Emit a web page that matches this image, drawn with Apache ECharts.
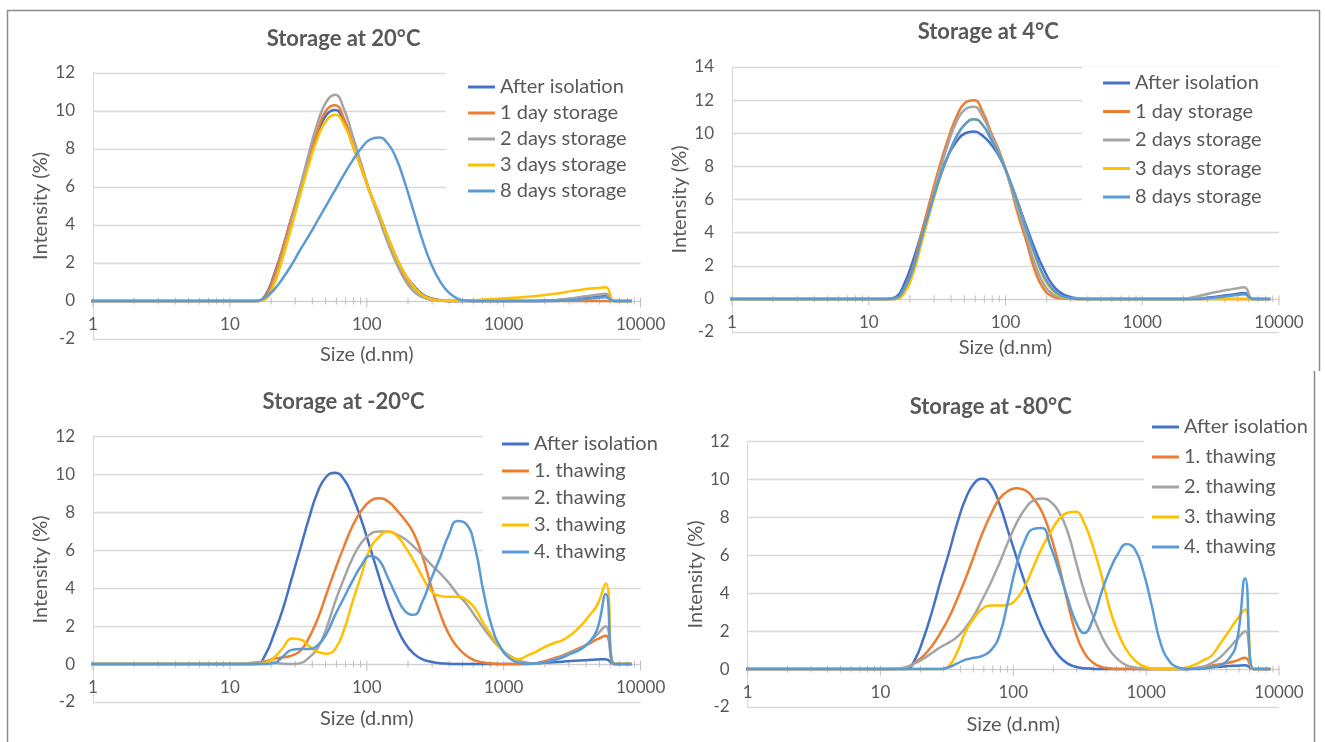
<!DOCTYPE html>
<html>
<head>
<meta charset="utf-8">
<title>DLS size distributions</title>
<script src="https://cdn.jsdelivr.net/npm/echarts@6/dist/echarts.min.js"></script>
<style>
  html, body { margin: 0; padding: 0; background: #fff; }
  #chart { width: 1325px; height: 742px; }
</style>
</head>
<body>
<div id="chart"></div>
<script>
// Size bins (d.nm) of the intensity distributions
const sizes = [0.9649, 1.117, 1.294, 1.499, 1.736, 2.010, 2.328, 2.696, 3.122, 3.615, 4.187, 4.849, 5.615, 6.503, 7.531, 8.721, 10.10, 11.70, 13.54,
  15.69, 18.17, 21.04, 24.36, 28.21, 32.67, 37.84, 43.82, 50.75, 58.77, 68.06, 78.82, 91.28, 105.7, 122.4, 141.8, 164.2, 190.1, 220.2, 255.0,
  295.3, 342.0, 396.1, 458.7, 531.2, 615.1, 712.4, 825.0, 955.4, 1106, 1281, 1484, 1718, 1990, 2305, 2669, 3091, 3580, 4145, 4801, 5560,
  6439, 7456, 8635];

// Storage at 20 °C (intensity %)
const t20After = [0,0,0,0,0,0,0,0,0,0,0,0,0,0,0,0,0,0,0,
  0, 0.3, 1.4, 2.8, 4.4, 5.9, 7.4, 8.8, 9.8, 10.05, 9.4, 8.2, 7.0, 5.7, 4.6, 3.4, 2.3, 1.4, 0.8, 0.35, 0.15, 0.05,
  0, 0, 0, 0, 0, 0, 0, 0, 0, 0, 0, 0.02, 0.04, 0.07, 0.1, 0.13, 0.17, 0.21, 0.25, 0, 0, 0];
const t20Day1 = [0,0,0,0,0,0,0,0,0,0,0,0,0,0,0,0,0,0,0,
  0, 0.25, 1.3, 2.8, 4.4, 6.0, 7.6, 9.0, 10.05, 10.3, 9.6, 8.3, 7.0, 5.7, 4.5, 3.3, 2.2, 1.3, 0.7, 0.3, 0.12, 0.04,
  0, 0, 0, 0, 0, 0, 0, 0, 0, 0, 0, 0, 0, 0, 0, 0, 0, 0, 0, 0, 0, 0];
const t20Day2 = [0,0,0,0,0,0,0,0,0,0,0,0,0,0,0,0,0,0,0,
  0, 0.15, 1.0, 2.5, 4.2, 6.0, 7.8, 9.4, 10.5, 10.85, 10.1, 8.7, 7.2, 5.7, 4.4, 3.1, 2.0, 1.1, 0.5, 0.2, 0.06, 0.02,
  0, 0, 0, 0, 0, 0, 0, 0, 0, 0, 0, 0, 0.03, 0.08, 0.14, 0.2, 0.27, 0.33, 0.38, 0, 0, 0];
const t20Day3 = [0,0,0,0,0,0,0,0,0,0,0,0,0,0,0,0,0,0,0,
  0, 0.1, 0.9, 2.3, 3.9, 5.6, 7.2, 8.6, 9.5, 9.8, 9.3, 8.2, 7.0, 5.7, 4.6, 3.4, 2.3, 1.4, 0.75, 0.3, 0.1, 0.03,
  0.01, 0.02, 0.03, 0.05, 0.08, 0.1, 0.13, 0.16, 0.19, 0.22, 0.26, 0.31, 0.37, 0.44, 0.52, 0.58, 0.64, 0.68, 0.72, 0, 0, 0];
const t20Day8 = [0,0,0,0,0,0,0,0,0,0,0,0,0,0,0,0,0,0,0,
  0, 0.2, 0.6, 1.2, 1.9, 2.7, 3.45, 4.25, 5.05, 5.85, 6.65, 7.4, 8.05, 8.5, 8.6, 8.3, 7.5, 6.2, 4.7, 3.2, 1.95, 1.05, 0.45, 0.13, 0.02,
  0, 0, 0, 0, 0, 0, 0, 0, 0, 0, 0.02, 0.05, 0.08, 0.12, 0.16, 0.2, 0, 0, 0];

// Storage at 4 °C
const t4After = [0,0,0,0,0,0,0,0,0,0,0,0,0,0,0,0,0,0,0,
  0.1, 0.9, 2.3, 4.0, 5.8, 7.4, 8.6, 9.5, 10.0, 10.1, 9.85, 9.3, 8.5, 7.3, 5.9, 4.4, 3.0, 1.8, 0.85, 0.35, 0.12, 0.03,
  0, 0, 0, 0, 0, 0, 0, 0, 0, 0, 0, 0, 0, 0.03, 0.08, 0.15, 0.22, 0.28, 0.35, 0, 0, 0];
const t4Day1 = [0,0,0,0,0,0,0,0,0,0,0,0,0,0,0,0,0,0,0,
  0, 0.6, 1.9, 4.0, 6.0, 7.9, 9.6, 11.0, 11.85, 12.0, 11.3, 10.0, 8.8, 7.2, 5.2, 3.5, 1.7, 0.6, 0.15, 0.03,
  0, 0, 0, 0, 0, 0, 0, 0, 0, 0, 0, 0, 0, 0, 0, 0, 0, 0, 0, 0, 0, 0, 0, 0];
const t4Day2 = [0,0,0,0,0,0,0,0,0,0,0,0,0,0,0,0,0,0,0,
  0, 0.4, 1.6, 3.6, 5.6, 7.6, 9.3, 10.7, 11.45, 11.6, 11.0, 9.9, 8.7, 7.2, 5.5, 3.8, 2.1, 0.9, 0.3, 0.08, 0.02,
  0, 0, 0, 0, 0, 0, 0, 0, 0, 0, 0, 0, 0, 0.08, 0.2, 0.32, 0.43, 0.53, 0.62, 0.7, 0, 0, 0];
const t4Day3 = [0,0,0,0,0,0,0,0,0,0,0,0,0,0,0,0,0,0,0,
  0, 0.35, 1.5, 3.4, 5.3, 7.1, 8.6, 9.8, 10.55, 10.85, 10.5, 9.6, 8.6, 7.3, 5.8, 4.2, 2.6, 1.3, 0.5, 0.15, 0.03,
  0, 0, 0, 0, 0, 0, 0, 0, 0, 0, 0, 0, 0, 0, 0, 0, 0, 0, 0, 0, 0, 0, 0];
const t4Day8 = [0,0,0,0,0,0,0,0,0,0,0,0,0,0,0,0,0,0,0,
  0.05, 0.6, 1.8, 3.7, 5.5, 7.2, 8.6, 9.8, 10.55, 10.85, 10.5, 9.6, 8.6, 7.3, 5.8, 4.2, 2.7, 1.4, 0.6, 0.2, 0.05,
  0, 0, 0, 0, 0, 0, 0, 0, 0, 0, 0, 0, 0, 0, 0, 0.05, 0.1, 0.16, 0.22, 0.28, 0, 0, 0];

// Storage at -20 °C
const m20After = [0,0,0,0,0,0,0,0,0,0,0,0,0,0,0,0,0,0,0,
  0, 0.5, 1.6, 2.9, 4.5, 6.1, 7.7, 9.1, 9.9, 10.1, 9.75, 8.85, 7.6, 6.15, 4.65, 3.2, 2.0, 1.1, 0.55, 0.25, 0.12, 0.05, 0.02,
  0, 0, 0, 0, 0, 0, 0, 0, 0.02, 0.04, 0.07, 0.1, 0.13, 0.16, 0.19, 0.22, 0.24, 0.26, 0, 0, 0];
const m20Thaw1 = [0,0,0,0,0,0,0,0,0,0,0,0,0,0,0,0,0,0,0,
  0.05, 0.15, 0.28, 0.35, 0.45, 0.7, 1.4, 2.4, 3.7, 5.0, 6.2, 7.3, 8.1, 8.6, 8.75, 8.6, 8.15, 7.6, 6.9, 5.7, 4.1,
  2.7, 1.6, 0.9, 0.45, 0.2, 0.08, 0.03, 0, 0, 0, 0, 0.05, 0.15, 0.3, 0.45, 0.65, 0.85, 1.05, 1.3, 1.5, 0, 0, 0];
const m20Thaw2 = [0,0,0,0,0,0,0,0,0,0,0,0,0,0,0,0,0,0,0.05,
  0.1, 0.12, 0.08, 0.02, 0, 0.05, 0.35, 0.85, 1.9, 3.3, 4.5, 5.6, 6.4, 6.85, 7.0, 7.0, 6.85, 6.6, 6.2, 5.75, 5.25,
  4.8, 4.3, 3.7, 3.2, 2.55, 1.9, 1.3, 0.8, 0.45, 0.2, 0.08, 0.03, 0.1, 0.25, 0.4, 0.6, 0.8, 1.1, 1.55, 2.0, 0, 0, 0];
const m20Thaw3 = [0,0,0,0,0,0,0,0,0,0,0,0,0,0,0,0,0,0,0,
  0, 0.05, 0.35, 0.85, 1.35, 1.3, 0.95, 0.65, 0.55, 0.8, 1.8, 3.3, 4.7, 6.1, 6.7, 7.0, 6.8, 6.2, 5.45, 4.6, 3.85,
  3.6, 3.55, 3.55, 3.4, 2.95, 2.15, 1.45, 0.8, 0.38, 0.26, 0.45, 0.65, 0.9, 1.1, 1.25, 1.55, 1.95, 2.5, 3.1, 4.25, 0, 0, 0];
const m20Thaw4 = [0,0,0,0,0,0,0,0,0,0,0,0,0,0,0,0,0,0,0,
  0, 0, 0.05, 0.4, 0.75, 0.8, 0.8, 1.0, 1.6, 2.6, 3.5, 4.4, 5.2, 5.7, 5.5, 4.6, 3.6, 2.8, 2.6, 3.3, 4.5,
  5.6, 6.8, 7.55, 7.4, 6.2, 3.8, 1.9, 0.85, 0.3, 0.08, 0.02, 0.03, 0.08, 0.2, 0.35, 0.55, 0.75, 1.1, 1.8, 3.7, 0, 0, 0];

// Storage at -80 °C
const m80After = [0,0,0,0,0,0,0,0,0,0,0,0,0,0,0,0,0,0,0,
  0, 0.5, 1.6, 3.0, 4.6, 6.1, 7.7, 9.0, 9.8, 10.05, 9.7, 8.7, 7.3, 5.9, 4.55, 3.3, 2.2, 1.35, 0.7, 0.3, 0.12, 0.05, 0.02,
  0, 0, 0, 0, 0, 0, 0, 0, 0, 0, 0, 0.03, 0.07, 0.1, 0.13, 0.16, 0.18, 0.2, 0, 0, 0];
const m80Thaw1 = [0,0,0,0,0,0,0,0,0,0,0,0,0,0,0,0,0,0,0.02,
  0.1, 0.35, 0.7, 1.2, 1.9, 2.7, 3.7, 4.8, 6.0, 7.2, 8.2, 9.0, 9.4, 9.55, 9.45, 9.0, 8.3, 7.1, 5.5, 3.6, 1.9,
  0.85, 0.35, 0.12, 0.04, 0, 0, 0, 0, 0, 0, 0, 0, 0, 0.05, 0.1, 0.18, 0.26, 0.33, 0.45, 0.6, 0, 0, 0];
const m80Thaw2 = [0,0,0,0,0,0,0,0,0,0,0,0,0,0,0,0,0,0,0.02,
  0.1, 0.3, 0.55, 0.85, 1.15, 1.4, 1.7, 2.2, 2.85, 3.7, 4.6, 5.6, 6.7, 7.7, 8.45, 8.9, 9.0, 8.85, 8.3, 7.3, 5.7,
  4.1, 2.85, 1.8, 1.0, 0.5, 0.2, 0.08, 0.03, 0, 0, 0, 0, 0, 0.05, 0.12, 0.3, 0.6, 1.05, 1.55, 2.0, 0, 0, 0];
const m80Thaw3 = [0,0,0,0,0,0,0,0,0,0,0,0,0,0,0,0,0,0,0,
  0, 0, 0, 0, 0, 0.15, 0.9, 2.0, 2.7, 3.2, 3.35, 3.35, 3.4, 3.7, 4.4, 5.4, 6.4, 7.2, 7.9, 8.25, 8.3,
  7.7, 6.5, 5.0, 3.2, 1.9, 1.0, 0.45, 0.15, 0.04, 0, 0, 0, 0.08, 0.22, 0.45, 0.7, 1.3, 1.95, 2.6, 3.15, 0, 0, 0];
const m80Thaw4 = [0,0,0,0,0,0,0,0,0,0,0,0,0,0,0,0,0,0,0,
  0, 0, 0, 0, 0, 0.1, 0.3, 0.5, 0.6, 0.7, 1.0, 1.8, 3.6, 5.5, 6.8, 7.4, 7.45, 6.5, 5.2, 3.8, 2.5,
  1.9, 2.6, 4.0, 5.2, 6.1, 6.6, 6.3, 5.1, 3.3, 1.4, 0.45, 0.1, 0.01, 0, 0.02, 0.08, 0.2, 0.5, 1.4, 4.8, 0, 0, 0];

// Legend entries and tick labels
const storageNames = ['After isolation', '1 day storage', '2 days storage', '3 days storage', '8 days storage'];
const thawNames = ['After isolation', '1. thawing', '2. thawing', '3. thawing', '4. thawing'];
const xTickLabels = ['1', '10', '100', '1000', '10000'];

const COLORS = ['#4472C4', '#ED7D31', '#A5A5A5', '#FFC000', '#5B9BD5'];
const TEXT = '#595959';
const FONT = 'Lato, "Open Sans", sans-serif';

// Panel layout (pixels)
const panels = [
  { title: 'Storage at 20°C', names: storageNames, values: [t20After, t20Day1, t20Day2, t20Day3, t20Day8], yMax: 12,
    grid: { left: 93, top: 73, width: 547.6, height: 266 }, titleX: 343.6, titleY: 40,
    legend: { bgLeft: 446, textX: 500, row1: 87, step: 26 }, xNameGap: 44, yNameGap: 42 },
  { title: 'Storage at 4°C', names: storageNames, values: [t4After, t4Day1, t4Day2, t4Day3, t4Day8], yMax: 14,
    grid: { left: 732, top: 67, width: 547, height: 265 }, titleX: 988.2, titleY: 33.3,
    legend: { bgLeft: 1082, textX: 1135, row1: 83, step: 28.5 }, xNameGap: 39, yNameGap: 42 },
  { title: 'Storage at -20°C', names: thawNames, values: [m20After, m20Thaw1, m20Thaw2, m20Thaw3, m20Thaw4], yMax: 12,
    grid: { left: 93, top: 436.7, width: 547.6, height: 265.3 }, titleX: 343.6, titleY: 402.7,
    legend: { bgLeft: 483, textX: 534, row1: 444, step: 27 }, xNameGap: 44.5, yNameGap: 42 },
  { title: 'Storage at -80°C', names: thawNames, values: [m80After, m80Thaw1, m80Thaw2, m80Thaw3, m80Thaw4], yMax: 12,
    grid: { left: 747.6, top: 441.7, width: 531.4, height: 265.3 }, titleX: 990.7, titleY: 407.7,
    legend: { bgLeft: 1144, textX: 1184, row1: 427, step: 30 }, xNameGap: 45, yNameGap: 42 }
];

// Tick positions along the log axis: 1..9 per decade, majors at powers of ten
const logTicks = [];
for (let d = 0; d < 4; d++) {
  for (let k = 1; k <= 9; k++) logTicks.push([k * Math.pow(10, d), k === 1 ? 1 : 0]);
}
logTicks.push([10000, 1]);

const chart = echarts.init(document.getElementById('chart'), null, { renderer: 'canvas', width: 1325, height: 742 });

const series = [];
panels.forEach((p, i) => {
  p.values.forEach((vals, s) => {
    series.push({
      type: 'line',
      name: p.names[s],
      xAxisIndex: i,
      yAxisIndex: i,
      data: sizes.map((x, k) => [x, vals[k]]),
      smooth: 0.5,
      symbol: 'none',
      clip: true,
      lineStyle: { width: 2.5, color: COLORS[s] },
      itemStyle: { color: COLORS[s] },
      emphasis: { disabled: true },
      z: 3
    });
  });
  // tick marks crossing the zero line
  series.push({
    type: 'custom',
    name: 'ticks' + i,
    xAxisIndex: i,
    yAxisIndex: i,
    silent: true,
    z: 2,
    data: logTicks,
    renderItem: function (params, api) {
      const pt = api.coord([api.value(0), 0]);
      const major = api.value(1) === 1;
      return {
        type: 'line',
        shape: { x1: pt[0], y1: pt[1] - 3.5, x2: pt[0], y2: pt[1] + (major ? 6.5 : 3.5) },
        style: { stroke: '#BFBFBF', lineWidth: 1 }
      };
    }
  });
});

const option = {
  backgroundColor: '#ffffff',
  animation: false,
  textStyle: { fontFamily: FONT },
  title: panels.map(p => ({
    text: p.title,
    left: p.titleX,
    top: p.titleY - 12,
    textAlign: 'center',
    padding: 0,
    textStyle: { fontSize: 22, fontWeight: 'bold', color: TEXT, fontFamily: FONT }
  })),
  legend: panels.map(p => ({
    orient: 'vertical',
    left: p.legend.bgLeft,
    top: p.legend.row1 - 10 - 6,
    padding: [6, 18, 8, p.legend.textX - 32 - p.legend.bgLeft],
    itemGap: p.legend.step - 20,
    itemWidth: 27,
    itemHeight: 3,
    icon: 'rect',
    selectedMode: false,
    backgroundColor: '#ffffff',
    data: p.names,
    textStyle: { fontSize: 20, color: TEXT, fontFamily: FONT }
  })),
  grid: panels.map(p => Object.assign({ containLabel: false, outerBoundsMode: 'none' }, p.grid)),
  xAxis: panels.map((p, i) => ({
    type: 'log',
    logBase: 10,
    gridIndex: i,
    min: 1,
    max: 10000,
    // the category axis crosses the value axis at zero
    offset: -p.grid.height * 2 / (p.yMax + 2),
    name: 'Size (d.nm)',
    nameLocation: 'middle',
    nameGap: p.xNameGap,
    nameTextStyle: { fontSize: 20, color: TEXT, fontFamily: FONT },
    axisLine: { show: true, onZero: false, lineStyle: { color: '#D0D0D0', width: 1 } },
    axisTick: { show: false },
    minorTick: { show: false },
    splitLine: { show: false },
    axisLabel: {
      margin: 15, fontSize: 17, color: TEXT, fontFamily: FONT,
      formatter: v => xTickLabels[Math.round(Math.log10(v))]
    }
  })),
  yAxis: panels.map((p, i) => ({
    type: 'value',
    gridIndex: i,
    min: -2,
    max: p.yMax,
    interval: 2,
    name: 'Intensity (%)',
    nameLocation: 'middle',
    nameRotate: 90,
    nameGap: p.yNameGap,
    nameTextStyle: { fontSize: 20, color: TEXT, fontFamily: FONT },
    axisLine: { show: true, lineStyle: { color: '#D9D9D9', width: 1 } },
    axisTick: { show: false },
    splitLine: { show: true, lineStyle: { color: '#D9D9D9', width: 1.3 } },
    axisLabel: { margin: 18, fontSize: 17, color: TEXT, fontFamily: FONT }
  })),
  graphic: [
    { type: 'polyline', silent: true, z: 100, shape: { points: [[7.5, 742], [7.5, 10.5], [1319.5, 10.5], [1319.5, 371]] },
      style: { stroke: '#8C8C8C', lineWidth: 1.5, fill: null } },
    { type: 'line', silent: true, z: 100, shape: { x1: 1314.5, y1: 371, x2: 1314.5, y2: 742 },
      style: { stroke: '#8C8C8C', lineWidth: 1.5 } }
  ],
  series: series
};

chart.setOption(option);
</script>
</body>
</html>
